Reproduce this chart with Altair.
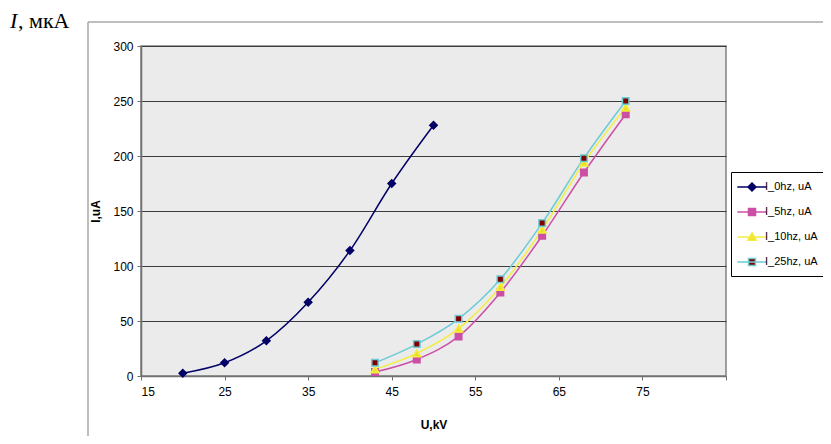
import altair as alt
import pandas as pd

# ---- data ----
series = ["I_0hz, uA", "I_5hz, uA", "I_10hz, uA", "I_25hz, uA"]
u_0hz = [20, 25, 30, 35, 40, 45, 50]
i_0hz = [2.5, 12, 32, 67, 114, 175, 228]
u_mod = [43, 48, 53, 58, 63, 68, 73]
i_5hz = [3.6, 15, 36, 76, 127.5, 185, 238]
i_10hz = [6, 20.5, 43, 81, 133, 194, 244]
i_25hz = [12, 29, 52, 88, 139, 198, 250]
x_ticks = [15, 25, 35, 45, 55, 65, 75, 85]
y_ticks = [0, 50, 100, 150, 200, 250, 300]

# ---- styles ----
line_colors = ["#000066", "#CC4FA6", "#F2EE40", "#6CCCD4"]
fill_colors = ["#000066", "#CC4FA6", "#EEE020", "#800000"]
marker_shapes = ["diamond", "square", "triangle-up", "square"]
marker_sizes = [55, 42, 60, 42]
legend_paths = [
    "M-2.1,0H2.1M0,-0.57L0.57,0L0,0.57L-0.57,0Z",
    "M-2.1,0H2.1M-0.5,-0.5H0.5V0.5H-0.5Z",
    "M-2.1,0H2.1M0,-0.62L0.6,0.45H-0.6Z",
    "M-2.1,0H2.1M-0.5,-0.5H0.5V0.5H-0.5Z",
]

rows = []
for k, (xs, ys) in enumerate([(u_0hz, i_0hz), (u_mod, i_5hz), (u_mod, i_10hz), (u_mod, i_25hz)]):
    for xv, yv in zip(xs, ys):
        rows.append({"series": series[k], "u": xv, "i": yv,
                     "marker": marker_shapes[k], "msize": marker_sizes[k]})
df = pd.DataFrame(rows)

x_enc = alt.X("u:Q", scale=alt.Scale(domain=[15, 85], nice=False, zero=False),
              axis=alt.Axis(values=x_ticks, grid=False, title="U,kV",
                            labelExpr="datum.value == 85 ? '' : datum.label",
                            titlePadding=22, labelPadding=6))
y_enc = alt.Y("i:Q", scale=alt.Scale(domain=[0, 300], nice=False),
              axis=alt.Axis(values=y_ticks, grid=True, gridColor="#3C3C3C", gridWidth=1,
                            title="I,uA", titlePadding=10, labelPadding=4))

stroke_scale = alt.Scale(domain=series, range=line_colors)
fill_scale = alt.Scale(domain=series, range=fill_colors)
leg = alt.Legend(title=None)

lines = alt.Chart(df).mark_line(interpolate="cardinal", strokeWidth=1.5).encode(
    x=x_enc, y=y_enc,
    stroke=alt.Stroke("series:N", scale=stroke_scale, legend=leg),
    order=alt.Order("u:Q"),
)

points = alt.Chart(df).mark_point(filled=True, strokeWidth=1.5, opacity=1).encode(
    x=x_enc, y=y_enc,
    shape=alt.Shape("marker:N", scale=None),
    size=alt.Size("msize:Q", scale=None),
    fill=alt.Fill("series:N", scale=fill_scale, legend=leg),
    stroke=alt.Stroke("series:N", scale=stroke_scale, legend=leg),
)

legend_layer = alt.Chart(df).transform_filter("false").mark_point(filled=True).encode(
    x=x_enc, y=y_enc,
    shape=alt.Shape("series:N", scale=alt.Scale(domain=series, range=legend_paths), legend=leg),
    fill=alt.Fill("series:N", scale=fill_scale, legend=leg),
    stroke=alt.Stroke("series:N", scale=stroke_scale, legend=leg),
)

one = pd.DataFrame({"k": [0]})
frame_top = alt.Chart(one).mark_rule(color="#A8A8A8", strokeWidth=1.5).encode(
    x=alt.value(-53), x2=alt.value(700), y=alt.value(-24))
frame_left = alt.Chart(one).mark_rule(color="#A8A8A8", strokeWidth=1.5).encode(
    x=alt.value(-53), y=alt.value(-24), y2=alt.value(400))

title_i = alt.Chart(one).mark_text(align="left", baseline="alphabetic", font="Liberation Serif",
                                   fontSize=22, fontStyle="italic", color="black").encode(
    x=alt.value(-131), y=alt.value(-18), text=alt.value("I"))
title_rest = alt.Chart(one).mark_text(align="left", baseline="alphabetic", font="Liberation Serif",
                                      fontSize=22, color="black").encode(
    x=alt.value(-123), y=alt.value(-18), text=alt.value(", мкА"))

chart = alt.layer(frame_top, frame_left, title_i, title_rest, lines, points, legend_layer).properties(
    width=585, height=330,
    autosize=alt.AutoSizeParams(type="none"),
    padding={"left": 133, "top": 38, "right": 97, "bottom": 60},
    background="white",
).configure_view(
    fill="#EBEBEB", stroke="#808080", strokeWidth=1.5
).configure_axis(
    labelFont="Liberation Sans", labelFontSize=12, labelColor="black",
    titleFont="Liberation Sans", titleFontSize=12, titleFontWeight="bold", titleColor="black",
    domainColor="#707070", domainWidth=1.5, tickColor="#707070", tickSize=4,
).configure_legend(
    orient="none", legendX=590, legendY=126,
    fillColor="white", strokeColor="black", strokeWidth=1, padding=7,
    labelFont="Liberation Sans", labelFontSize=11, labelColor="black",
    symbolSize=196, symbolStrokeWidth=1.5, symbolOpacity=1,
    symbolFillColor="white", symbolStrokeColor="black",
    symbolOffset=6, labelOffset=5, rowPadding=10,
)

chart.save("out.html", embed_options={"renderer": "svg", "actions": False})
